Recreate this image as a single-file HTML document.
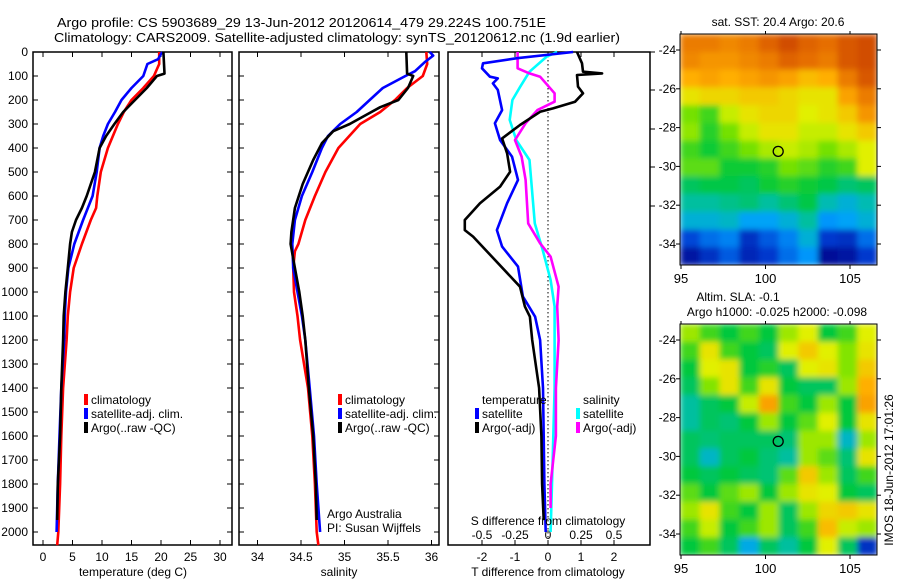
<!DOCTYPE html>
<html><head><meta charset="utf-8"><style>
html,body{margin:0;padding:0;background:#fff;}
svg{display:block;font-family:"Liberation Sans",sans-serif;}
text{font-size:12px;fill:#000;}
</style></head><body>
<svg id="fig" width="900" height="580" viewBox="0 0 900 580">
<defs>
<filter id="smooth" x="-5%" y="-5%" width="110%" height="110%"><feGaussianBlur stdDeviation="3" edgeMode="duplicate"/></filter>
<clipPath id="clipA"><rect x="680" y="34" width="197" height="231"/></clipPath>
<clipPath id="clipB"><rect x="680" y="324" width="197" height="231"/></clipPath>
</defs>
<text x="57" y="27" textLength="489" lengthAdjust="spacingAndGlyphs" style="font-size:13px">Argo profile: CS 5903689_29 13-Jun-2012 20120614_479 29.224S 100.751E</text>
<text x="54" y="42" textLength="566" lengthAdjust="spacingAndGlyphs" style="font-size:13px">Climatology: CARS2009. Satellite-adjusted climatology: synTS_20120612.nc (1.9d earlier)</text>
<g id="g"></g>
</svg>
<script>
// ---------- data ----------
const depthTicks=[0,100,200,300,400,500,600,700,800,900,1000,1100,1200,1300,1400,1500,1600,1700,1800,1900,2000];
const tempTicks=[0,5,10,15,20,25,30];
const salTicks=[34,34.5,35,35.5,36];
const salTickLabels=["34","34.5","35","35.5","36"];
const tdTicks=[-2,-1,0,1,2];
const sdTicks=[-0.5,-0.25,0,0.25,0.5];
const sdTickLabels=["-0.5","-0.25","0","0.25","0.5"];

const tClimDepth=[0,50,100,150,200,250,300,400,500,600,650,700,800,900,1000,1100,1200,1400,1600,1800,2000,2055];
const tClimVal=[19.7,19.7,18.8,17,15,13.7,12.7,11,9.8,9.2,9,8.1,6.6,5.2,4.6,4.2,4.0,3.4,3.1,2.9,2.6,2.4];
const tSatDepth=[0,30,50,100,150,200,250,300,350,400,500,600,700,800,900,1000,1100,1200,1400,1600,1800,2000];
const tSatVal=[20.2,19.5,17.7,17,15,13.3,12.2,11,10.2,9.6,9.1,8.4,6.8,5.3,4.3,3.9,3.7,3.6,3.1,2.8,2.5,2.3];
const tArgoDepth=[0,90,100,150,200,250,300,350,400,500,600,650,700,750,800,900,1000,1100,1200,1400,1600,1800,1950];
const tArgoVal=[20.4,20.6,19.3,17.6,15.6,13.6,12.1,10.7,9.6,8.8,7.4,6.6,5.6,4.9,4.6,4.2,3.8,3.5,3.4,3.1,2.9,2.5,2.4];

const sClimDepth=[0,50,100,150,200,250,300,400,500,600,700,800,830,900,1000,1100,1200,1400,1600,1800,2000,2055];
const sClimVal=[35.94,35.95,35.90,35.72,35.58,35.41,35.18,34.93,34.78,34.66,34.55,34.47,34.43,34.41,34.42,34.46,34.49,34.58,34.63,34.66,34.68,34.70];
const sSatDepth=[0,15,40,80,100,150,200,250,300,350,400,500,600,700,800,900,1000,1100,1200,1400,1600,1800,2000];
const sSatVal=[35.98,36.02,35.93,35.81,35.70,35.44,35.29,35.14,34.95,34.81,34.74,34.63,34.51,34.43,34.40,34.41,34.46,34.51,34.55,34.60,34.65,34.68,34.72];
const sArgoDepth=[0,90,100,150,200,230,260,300,330,380,450,550,650,750,800,900,1000,1100,1200,1400,1600,1800,1950];
const sArgoVal=[35.71,35.72,35.79,35.73,35.62,35.41,35.26,35.06,34.87,34.74,34.64,34.52,34.43,34.39,34.38,34.43,34.48,34.52,34.55,34.59,34.64,34.67,34.68];

const dtArgoDepth=[0,47,82,89,96,144,172,207,235,249,304,360,422,499,561,630,700,742,769,978,1061,1103,1200,1400,1600,1800,1950];
const dtArgoVal=[0.88,1.03,1.06,1.64,0.88,0.91,1.06,0.82,0.15,-0.24,-0.85,-1.39,-1.24,-1.15,-1.45,-2.06,-2.52,-2.52,-2.27,-0.85,-0.70,-0.55,-0.48,-0.27,-0.2,-0.18,-0.13];
const dtSatDepth=[0,26,47,68,103,110,131,158,242,297,367,436,533,630,742,811,894,1019,1103,1200,1400,1600,1800,2000];
const dtSatVal=[0.76,-0.94,-1.97,-2.0,-1.76,-1.52,-1.67,-1.52,-1.39,-1.61,-1.45,-1.09,-0.91,-1.24,-1.55,-1.39,-0.91,-0.76,-0.39,-0.24,-0.15,-0.13,-0.11,-0.07];
const dsArgoDepth=[0,68,89,103,172,207,242,297,367,436,533,714,797,853,978,1061,1200,1400,1600,1800,1900];
const dsArgoVal=[-0.23,-0.23,-0.14,-0.06,0.05,0.05,-0.08,-0.17,-0.25,-0.2,-0.17,-0.15,-0.06,0.02,0.08,0.07,0.08,0.06,0.06,0.02,0.02];
const dsSatDepth=[0,19,82,144,200,283,367,450,714,825,950,1061,1200,1400,1600,1800,2000];
const dsSatVal=[0.07,-0.01,-0.14,-0.21,-0.27,-0.29,-0.24,-0.14,-0.10,-0.04,0.02,0.05,0.05,0.05,0.04,0.03,0.02];

const latTicks=[-24,-26,-28,-30,-32,-34];
const lonTicks=[95,100,105];
const sstGrid=[
[.80,.80,.78,.80,.84,.88,.84,.82,.86,.88],
[.78,.76,.76,.78,.80,.84,.82,.80,.86,.88],
[.72,.74,.72,.74,.76,.74,.70,.72,.80,.86],
[.64,.66,.66,.68,.68,.66,.64,.64,.74,.80],
[.54,.50,.60,.64,.66,.66,.62,.64,.68,.76],
[.56,.48,.54,.60,.64,.64,.60,.60,.64,.68],
[.50,.46,.50,.54,.58,.60,.58,.54,.58,.62],
[.52,.52,.46,.46,.48,.54,.52,.48,.50,.62],
[.42,.44,.44,.42,.46,.48,.46,.44,.40,.42],
[.36,.36,.38,.40,.36,.40,.44,.34,.30,.34],
[.30,.30,.32,.26,.26,.30,.36,.24,.26,.30],
[.16,.20,.22,.12,.18,.22,.30,.14,.12,.20],
[.06,.12,.18,.10,.14,.20,.24,.04,.06,.14]];
const slaGrid=[
[.57,.50,.45,.50,.45,.57,.62,.45,.50,.62],
[.50,.64,.50,.45,.42,.62,.68,.62,.55,.64],
[.45,.62,.64,.45,.48,.42,.62,.64,.55,.68],
[.42,.55,.64,.50,.64,.45,.42,.42,.57,.72],
[.36,.42,.45,.60,.74,.50,.45,.57,.45,.74],
[.36,.42,.40,.45,.57,.45,.52,.62,.45,.64],
[.42,.40,.42,.42,.42,.40,.57,.57,.32,.57],
[.42,.32,.42,.45,.40,.36,.57,.52,.40,.64],
[.45,.42,.45,.42,.40,.52,.68,.57,.42,.50],
[.52,.45,.52,.57,.45,.57,.64,.62,.45,.42],
[.57,.64,.50,.45,.57,.42,.57,.66,.68,.64],
[.50,.60,.45,.50,.57,.42,.50,.70,.60,.57],
[.45,.50,.42,.28,.42,.36,.45,.62,.42,.12]];
const argoLon=100.751, argoLat=-29.224;

// ---------- drawing ----------
const NS="http://www.w3.org/2000/svg";
const G=document.getElementById('g');
function mk(tag,attrs,parent,txt){const e=document.createElementNS(NS,tag);for(const k in attrs)e.setAttribute(k,attrs[k]);if(txt!==undefined)e.textContent=txt;(parent||G).appendChild(e);return e;}
const yD=d=>52+d*0.24;
const TOP=52,BOT=545;
const xT=v=>43+v*5.9;
const xS=v=>301+(v-34.5)*87;
const xDT=v=>548+v*33;
const xDS=v=>548+v*132;

function frame(x0,x1,name){
  const r=mk('rect',{x:x0,y:TOP,width:x1-x0,height:BOT-TOP,fill:'none',stroke:'#000','stroke-width':1.5});
  
  
  depthTicks.forEach(d=>{mk('line',{x1:x0,x2:x0+5,y1:yD(d),y2:yD(d),stroke:'#000'});mk('line',{x1:x1,x2:x1-5,y1:yD(d),y2:yD(d),stroke:'#000'});});
}
function xticks(vals,labels,fx,ly,name){
  vals.forEach((v,i)=>{const x=fx(v);mk('line',{x1:x,x2:x,y1:BOT,y2:BOT-5,stroke:'#000'});mk('line',{x1:x,x2:x,y1:TOP,y2:TOP+5,stroke:'#000'});
    const t=mk('text',{x:x,y:ly,'text-anchor':'middle'},G,labels[i]);
    
    });
}
function line(ds,vs,fx,color,name){
  const p=ds.map((d,i)=>(i?'L':'M')+fx(vs[i]).toFixed(1)+' '+yD(d).toFixed(1)).join(' ');
  const e=mk('path',{d:p,fill:'none',stroke:color,'stroke-width':2.6,'stroke-linejoin':'round'});
  
  
}
function label(x,y,s,name,anchor,size){
  const t=mk('text',{x:x,y:y,'text-anchor':anchor||'start'},G,s);
  if(size)t.style.fontSize=size+'px';
  
  
  return t;
}
function legendItem(x,y,color,s,name){
  const r=mk('rect',{x:x,y:y-10,width:4,height:11,fill:color});
  
  
  label(x+7,y,s,name);
}

// panel 1
frame(33,232,'temperature-panel');
depthTicks.forEach(d=>label(28,yD(d)+4,String(d),'depth-tick-label','end'));
xticks(tempTicks,tempTicks.map(String),xT,561,'temperature-tick-label');
label(133,576,'temperature (deg C)','temperature-axis-title','middle');
line(tClimDepth,tClimVal,xT,'#ff0000','temp-climatology-line');
line(tSatDepth,tSatVal,xT,'#0000ff','temp-satellite-line');
line(tArgoDepth,tArgoVal,xT,'#000000','temp-argo-line');
legendItem(84,404,'#ff0000','climatology','legend-climatology');
legendItem(84,418,'#0000ff','satellite-adj. clim.','legend-satellite');
legendItem(84,432,'#000000','Argo(..raw -QC)','legend-argo');

// panel 2
frame(239,439,'salinity-panel');
xticks(salTicks,salTickLabels,xS,561,'salinity-tick-label');
label(339,576,'salinity','salinity-axis-title','middle');
line(sClimDepth,sClimVal,xS,'#ff0000','sal-climatology-line');
line(sSatDepth,sSatVal,xS,'#0000ff','sal-satellite-line');
line(sArgoDepth,sArgoVal,xS,'#000000','sal-argo-line');
legendItem(338,404,'#ff0000','climatology','legend-climatology-2');
legendItem(338,418,'#0000ff','satellite-adj. clim.','legend-satellite-2');
legendItem(338,432,'#000000','Argo(..raw -QC)','legend-argo-2');
label(327,518,'Argo Australia','credit-argo-australia');
label(327,532,'PI: Susan Wijffels','credit-pi');

// panel 3
const p3=mk('rect',{x:448,y:TOP,width:202,height:BOT-TOP,fill:'none',stroke:'#000','stroke-width':1.5});


tdTicks.forEach(v=>{const x=xDT(v);mk('line',{x1:x,x2:x,y1:BOT,y2:BOT-5,stroke:'#000'});mk('line',{x1:x,x2:x,y1:TOP,y2:TOP+5,stroke:'#000'});
  label(x,561,String(v),'tdiff-tick-label','middle');});
sdTickLabels.forEach((s,i)=>label(xDS(sdTicks[i]),539,s,'sdiff-tick-label','middle'));
const zl=mk('line',{x1:548,x2:548,y1:TOP,y2:BOT,stroke:'#000','stroke-dasharray':'1.5,2.5'});


[52,90,129,167,206].forEach(y=>mk('line',{x1:650,x2:655,y1:y,y2:y,stroke:'#000'}));
line(dsSatDepth,dsSatVal,xDS,'#00ffff','sdiff-satellite-line');
line(dsArgoDepth,dsArgoVal,xDS,'#ff00ff','sdiff-argo-line');
line(dtSatDepth,dtSatVal,xDT,'#0000ff','tdiff-satellite-line');
line(dtArgoDepth,dtArgoVal,xDT,'#000000','tdiff-argo-line');
label(482,404,'temperature','legend-temperature-heading');
label(583,404,'salinity','legend-salinity-heading');
legendItem(475,418,'#0000ff','satellite','legend-tdiff-satellite');
legendItem(475,432,'#000000','Argo(-adj)','legend-tdiff-argo');
legendItem(576,418,'#00ffff','satellite','legend-sdiff-satellite');
legendItem(576,432,'#ff00ff','Argo(-adj)','legend-sdiff-argo');
label(548,525,'S difference from climatology','sdiff-axis-title','middle');
label(548,576,'T difference from climatology','tdiff-axis-title','middle');

// maps
const cmStops=[[0,0,0,130],[0.15,0,60,210],[0.25,0,160,255],[0.35,0,190,170],[0.45,0,200,60],[0.55,130,228,0],[0.62,225,240,0],[0.72,255,175,0],[0.82,230,110,0],[0.95,185,40,0],[1,160,20,0]];
function cmap(v){
  v=Math.max(0,Math.min(1,v));
  for(let i=1;i<cmStops.length;i++){const a=cmStops[i-1],b=cmStops[i];
    if(v<=b[0]){const t=(v-a[0])/(b[0]-a[0]);return `rgb(${Math.round(a[1]+t*(b[1]-a[1]))},${Math.round(a[2]+t*(b[2]-a[2]))},${Math.round(a[3]+t*(b[3]-a[3]))})`;}}
  return 'rgb(160,20,0)';
}
function map(oy,grid,name,clip){
  const X0=680,X1=877,Y0=34+oy,Y1=265+oy;
  const xl=l=>681+(l-95)*16.9, yl=l=>50+oy+(-24-l)*19.4;
  const rows=grid.length,cols=grid[0].length,cw=(X1-X0)/cols,ch=(Y1-Y0)/rows;
  const outer=mk('g',{'clip-path':`url(#${clip})`});
  const g=mk('g',{filter:'url(#smooth)'},outer);
  
  
  grid.forEach((row,r)=>row.forEach((v,c)=>{
    const e=mk('rect',{x:(X0+c*cw).toFixed(2),y:(Y0+r*ch).toFixed(2),width:(cw+0.6).toFixed(2),height:(ch+0.6).toFixed(2),fill:cmap(v)},g);
    
    
  }));
  mk('rect',{x:X0,y:Y0,width:X1-X0,height:Y1-Y0,fill:'none',stroke:'#000'});
  latTicks.forEach(l=>{const y=yl(l);mk('line',{x1:X0,x2:X0-4,y1:y,y2:y,stroke:'#000'});mk('line',{x1:X1,x2:X1+4,y1:y,y2:y,stroke:'#000'});
    label(676,y+4,String(l),'lat-tick-label','end');});
  lonTicks.forEach(l=>{const x=xl(l);mk('line',{x1:x,x2:x,y1:Y1,y2:Y1+4,stroke:'#000'});mk('line',{x1:x,x2:x,y1:Y0,y2:Y0-3,stroke:'#000'});
    label(x,Y1+18,String(l),'lon-tick-label','middle',13);});
  const m=mk('circle',{cx:xl(argoLon),cy:yl(argoLat),r:5,fill:'none',stroke:'#000','stroke-width':1.3});
  
  
}
map(0,sstGrid,'sst-map','clipA');
map(290,slaGrid,'sla-map','clipB');
label(778,26,'sat. SST: 20.4 Argo: 20.6','sst-map-title','middle');
label(738,301,'Altim. SLA: -0.1','sla-map-title','middle');
label(777,316,'Argo h1000: -0.025 h2000: -0.098','sla-map-subtitle','middle');
const ts=label(0,0,'IMOS 18-Jun-2012 17:01:26','timestamp','middle');
ts.setAttribute('transform','translate(893,470) rotate(-90)');
</script>
</body></html>
